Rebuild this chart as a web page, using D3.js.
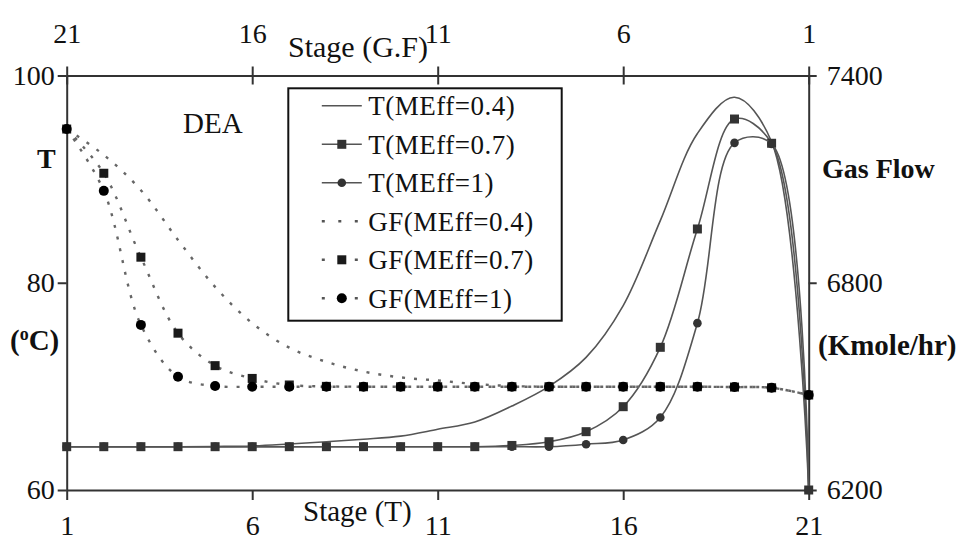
<!DOCTYPE html>
<html>
<head>
<meta charset="utf-8">
<script src="https://cdn.jsdelivr.net/npm/d3@7"></script>
<style>
  body { margin: 0; background: #fff; }
  svg { display: block; }
  text { font-family: "Liberation Serif", "Times New Roman", serif; }
  .axis text { font-size: 28px; fill: #111; }
  .axis path, .axis line { stroke: #333; stroke-width: 2; }
  .label { fill: #111; }
</style>
</head>
<body>
<svg id="drawing_region"></svg>
<script>
// stages on the bottom axis (temperature) and on the top axis (gas flow, reversed)
const stagesT = [1, 2, 3, 4, 5, 6, 7, 8, 9, 10, 11, 12, 13, 14, 15, 16, 17, 18, 19, 20, 21];
const stagesGF = [21, 20, 19, 18, 17, 16, 15, 14, 13, 12, 11, 10, 9, 8, 7, 6, 5, 4, 3, 2, 1];

// temperature (C), by stagesT
const tempMEff04 = [64.18, 64.18, 64.18, 64.18, 64.2, 64.25, 64.44, 64.66, 64.9, 65.2, 65.86, 66.56, 68.1, 70.0, 72.8, 77.8, 86.0, 94.4, 97.9, 93.6, 60];
const tempMEff07 = [64.18, 64.18, 64.18, 64.18, 64.18, 64.18, 64.18, 64.18, 64.18, 64.18, 64.18, 64.18, 64.3, 64.66, 65.63, 68.04, 73.77, 85.19, 95.8, 93.46, 60];
const tempMEff10 = [64.18, 64.18, 64.18, 64.18, 64.18, 64.18, 64.18, 64.18, 64.18, 64.18, 64.18, 64.18, 64.18, 64.18, 64.42, 64.83, 67.0, 76.1, 93.5, 93.4, 60];

// gas flow (Kmole/hr), by stagesGF
const gasMEff04 = [7245, 7170, 7068, 6924, 6788, 6683, 6612, 6571, 6543, 6526, 6517, 6507, 6501, 6499, 6499, 6499, 6499, 6499, 6498, 6496, 6475];
const gasMEff07 = [7245, 7117, 6874, 6654, 6560, 6523, 6504, 6500, 6499, 6499, 6499, 6499, 6499, 6499, 6499, 6499, 6499, 6499, 6498, 6496, 6475];
const gasMEff10 = [7245, 7066, 6678, 6528, 6501, 6499, 6499, 6499, 6499, 6499, 6499, 6499, 6499, 6499, 6499, 6499, 6499, 6499, 6498, 6496, 6475];

const stageTicks = [1, 6, 11, 16, 21];
const tempTicks = [60, 80, 100];
const gasTicks = [6200, 6800, 7400];

const seriesNames = ['T(MEff=0.4)', 'T(MEff=0.7)', 'T(MEff=1)', 'GF(MEff=0.4)', 'GF(MEff=0.7)', 'GF(MEff=1)'];

class StageChart {
    constructor(config) {
        this.config = {
            parentElement: config.parentElement,
            width: config.width || 960,
            height: config.height || 542,
            margin: config.margin || {top: 75.5, right: 151.3, bottom: 52, left: 66.7}
        };
        this.init();
    }

    init() {
        const {width, height, margin} = this.config;

        this.svg = d3.select(this.config.parentElement)
            .attr('width', width)
            .attr('height', height);

        this.chart = this.svg.append('g')
            .attr('transform', `translate(${margin.left}, ${margin.top})`);

        this.inner_width = width - margin.left - margin.right;
        this.inner_height = height - margin.top - margin.bottom;

        this.xscale = d3.scaleLinear().domain([1, 21]).range([0, this.inner_width]);
        this.xscale_top = d3.scaleLinear().domain([21, 1]).range([0, this.inner_width]);
        this.yscale_t = d3.scaleLinear().domain([60, 100]).range([this.inner_height, 0]);
        this.yscale_gf = d3.scaleLinear().domain([6200, 7400]).range([this.inner_height, 0]);
    }

    update(series) {
        this.series = series;
        this.render();
    }

    render() {
        const w = this.inner_width, h = this.inner_height;
        const fmt = d3.format('d');

        // axes (frame)
        const bottom = this.chart.append('g').attr('class', 'axis')
            .attr('transform', `translate(0, ${h})`)
            .call(d3.axisBottom(this.xscale).tickValues(stageTicks).tickSize(10).tickSizeOuter(0).tickPadding(15));
        const top = this.chart.append('g').attr('class', 'axis')
            .call(d3.axisTop(this.xscale_top).tickValues(stageTicks).tickSize(9).tickSizeOuter(0).tickPadding(24));
        top.selectAll('.tick line').attr('y2', 9).attr('y1', -9);
        const left = this.chart.append('g').attr('class', 'axis')
            .call(d3.axisLeft(this.yscale_t).tickValues(tempTicks).tickSize(9).tickSizeOuter(0).tickPadding(3));
        const right = this.chart.append('g').attr('class', 'axis')
            .attr('transform', `translate(${w}, 0)`)
            .call(d3.axisRight(this.yscale_gf).tickValues(gasTicks).tickFormat(fmt).tickSize(8).tickSizeOuter(0).tickPadding(10));
        [bottom, top, left, right].forEach(a => a.selectAll('text').attr('fill', '#111'));

        const line = d3.line().curve(d3.curveCatmullRom.alpha(0.5));

        this.series.forEach(s => {
            const xs = s.axis === 'gf' ? this.xscale_top : this.xscale;
            const ys = s.axis === 'gf' ? this.yscale_gf : this.yscale_t;
            const pts = s.stages.map((st, i) => [xs(st), ys(s.values[i])]);

            this.chart.append('path')
                .attr('d', line(pts))
                .attr('fill', 'none')
                .attr('stroke', s.axis === 'gf' ? '#666' : '#555')
                .attr('stroke-width', s.axis === 'gf' ? 2.4 : 1.6)
                .attr('stroke-dasharray', s.axis === 'gf' ? '3,9' : null);

            this.drawMarkers(this.chart, pts, s);
        });

        this.drawLegend();
        this.drawLabels();
    }

    drawMarkers(g, pts, s) {
        if (s.marker === 'square') {
            g.selectAll(null).data(pts).enter().append('rect')
                .attr('x', d => d[0] - 4.5).attr('y', d => d[1] - 4.5)
                .attr('width', 9).attr('height', 9)
                .attr('fill', s.color);
        } else if (s.marker === 'circle') {
            g.selectAll(null).data(pts).enter().append('circle')
                .attr('cx', d => d[0]).attr('cy', d => d[1])
                .attr('r', s.axis === 'gf' ? 5 : 4.3)
                .attr('fill', s.color);
        }
    }

    drawLegend() {
        const lg = this.svg.append('g').attr('transform', 'translate(288.3, 88.3)');
        lg.append('rect')
            .attr('width', 273.4).attr('height', 232.4)
            .attr('fill', '#fff').attr('stroke', '#111').attr('stroke-width', 2);

        this.series.forEach((s, i) => {
            const cy = 17.5 + i * 38.5;
            const row = lg.append('g').attr('transform', `translate(0, ${cy})`);
            row.append('line')
                .attr('x1', 33.5).attr('x2', 73.5)
                .attr('stroke', '#555')
                .attr('stroke-width', s.axis === 'gf' ? 2.4 : 1.6)
                .attr('stroke-dasharray', s.axis === 'gf' ? '3,13.5' : null);
            this.drawMarkers(row, [[53.5, 0]], s);
            row.append('text')
                .attr('class', 'label')
                .attr('x', 80).attr('y', 9.5)
                .style('font-size', '27px')
                .style('letter-spacing', '0.5px')
                .text(s.name);
        });
    }

    drawLabels() {
        const add = (x, y, txt, size, weight) => this.svg.append('text')
            .attr('class', 'label')
            .attr('x', x).attr('y', y)
            .style('font-size', size + 'px')
            .style('font-weight', weight || 'normal')
            .text(txt);

        add(288, 57, 'Stage (G.F)', 30);
        add(303, 521, 'Stage (T)', 29);
        add(183, 133, 'DEA', 29);
        add(37, 168, 'T', 28, 'bold');
        add(822, 178, 'Gas Flow', 28, 'bold');
        add(818, 355, '(Kmole/hr)', 29, 'bold');

        const c = add(10, 350, '', 29, 'bold');
        c.append('tspan').text('(');
        c.append('tspan').attr('dy', -10).style('font-size', '18px').text('o');
        c.append('tspan').attr('dy', 10).text('C)');
    }
}

const chart = new StageChart({parentElement: '#drawing_region', width: 960, height: 542});

chart.update([
    {name: seriesNames[0], axis: 't', stages: stagesT, values: tempMEff04, marker: null, color: '#333'},
    {name: seriesNames[1], axis: 't', stages: stagesT, values: tempMEff07, marker: 'square', color: '#333'},
    {name: seriesNames[2], axis: 't', stages: stagesT, values: tempMEff10, marker: 'circle', color: '#333'},
    {name: seriesNames[3], axis: 'gf', stages: stagesGF, values: gasMEff04, marker: null, color: '#111'},
    {name: seriesNames[4], axis: 'gf', stages: stagesGF, values: gasMEff07, marker: 'square', color: '#1a1a1a'},
    {name: seriesNames[5], axis: 'gf', stages: stagesGF, values: gasMEff10, marker: 'circle', color: '#000'}
]);
</script>
</body>
</html>
